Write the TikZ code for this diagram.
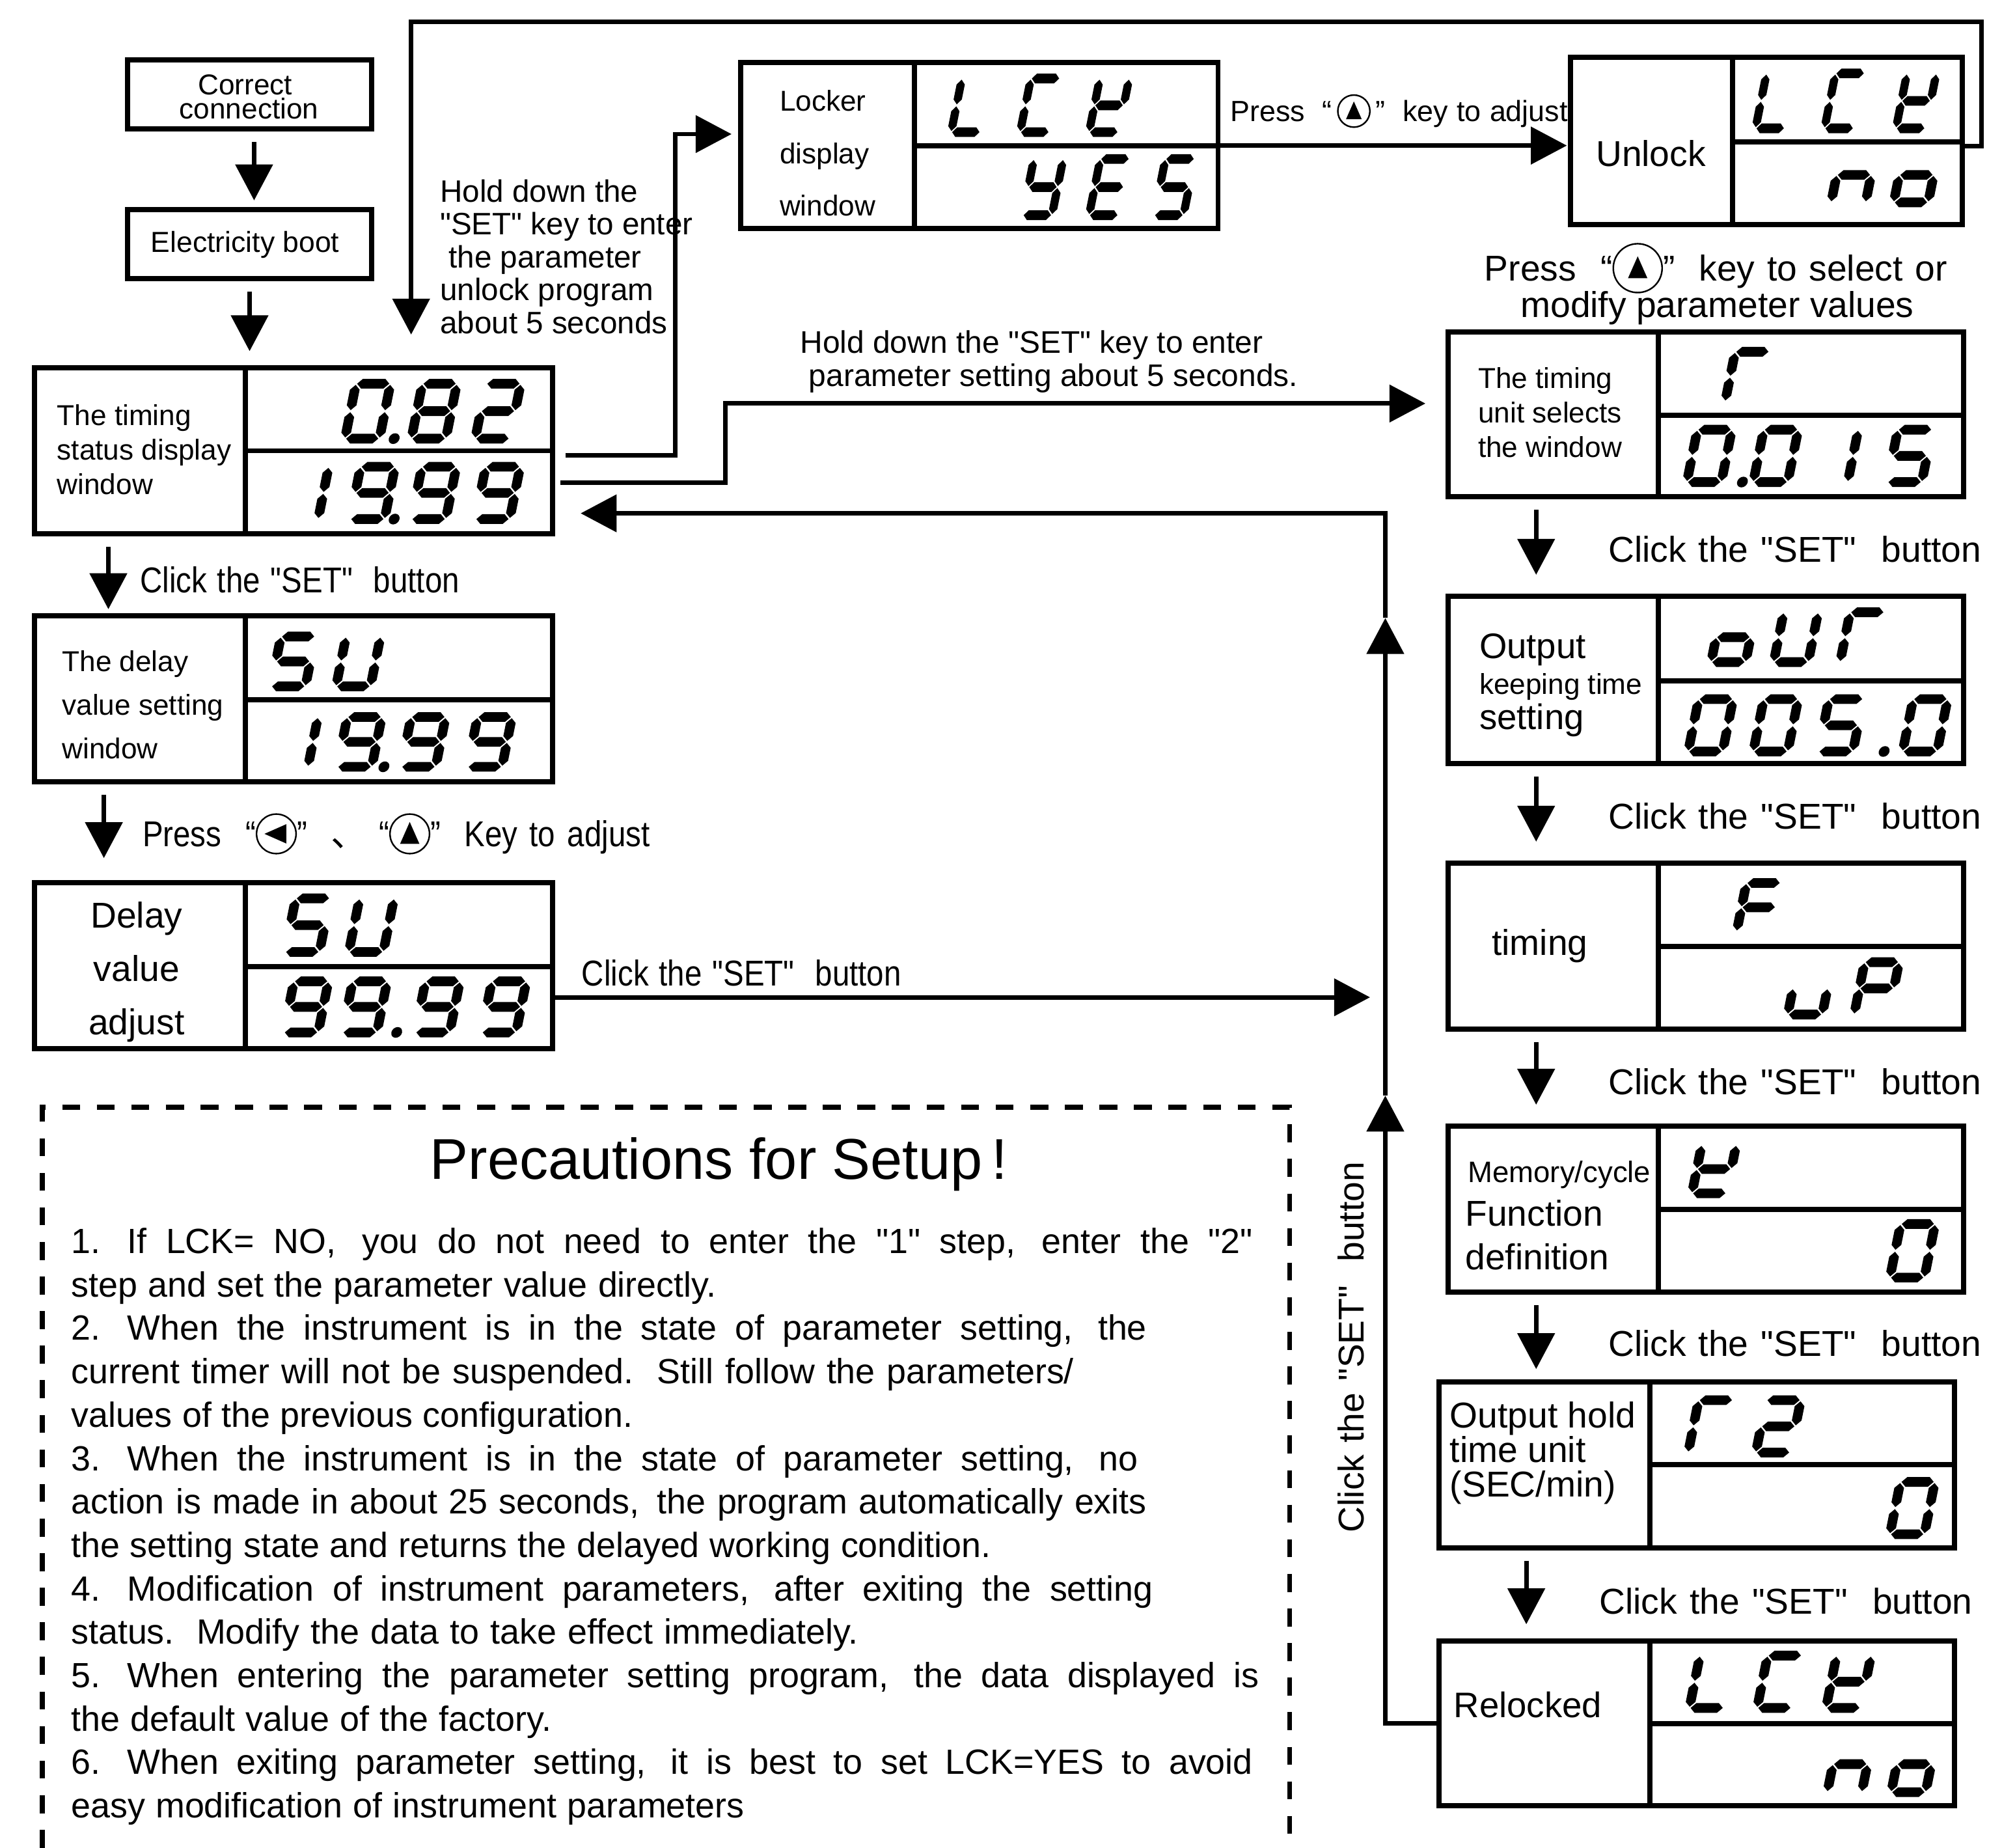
\documentclass[tikz,border=0pt]{standalone}
\usepackage{fontspec}
\setmainfont{Liberation Sans}
\newfontfamily\plainfont{Liberation Sans}
\newfontfamily\narrowfont[FakeStretch=0.86]{Liberation Sans}
\newfontfamily\cjkfont{Noto Sans CJK SC}
\usetikzlibrary{arrows.meta,positioning}

\newcommand{\fs}[2]{\plainfont\fontsize{#1}{#2}\selectfont}
\newcommand{\setclick}[1]{\makebox[#1][s]{Click the "SET"\ \ button}}
\newcommand{\itemno}[1]{\makebox[0.44cm][l]{#1}}
\newcommand{\cgap}{,\kern1.5pt\ }
\newcommand{\keyup}[1][.55]{\tikz[baseline=-0.35em,x=1em,y=1em]{\draw[line width=.35pt] (0,0) circle (#1); \fill (-.27,-.28) -- (.27,-.28) -- (0,.33) -- cycle;}}
\newcommand{\keyleft}{\tikz[baseline=-0.35em,x=1em,y=1em]{\draw[line width=.35pt] (0,0) circle (.55); \fill (.28,-.27) -- (.28,.27) -- (-.33,0) -- cycle;}}

% Segments of one display digit
\newcommand{\hseg}[3]{\fill ({#1},{#3}) -- ({#1+3.8},{#3-3.8}) -- ({#2-3.8},{#3-3.8}) -- ({#2},{#3}) -- ({#2-3.8},{#3+3.8}) -- ({#1+3.8},{#3+3.8}) -- cycle;}
\newcommand{\vseg}[3]{\fill ({#1},{#2}) -- ({#1+3.8},{#2+3.8}) -- ({#1+3.8},{#3-3.8}) -- ({#1},{#3}) -- ({#1-3.8},{#3-3.8}) -- ({#1-3.8},{#2+3.8}) -- cycle;}
\def\lcdsega{\hseg{4.4}{29.6}{-\lcdh+3.5}}
\def\lcdsegb{\vseg{30.5}{-\lcdh+4.4}{-\lcdh/2-0.8}}
\def\lcdsegc{\vseg{30.5}{-\lcdh/2+0.8}{-4.4}}
\def\lcdsegd{\hseg{4.4}{29.6}{-3.5}}
\def\lcdsege{\vseg{3.5}{-\lcdh/2+0.8}{-4.4}}
\def\lcdsegf{\vseg{3.5}{-\lcdh+4.4}{-\lcdh/2-0.8}}
\def\lcdsegg{\hseg{4.4}{29.6}{-\lcdh/2}}
\def\lcdsegp{\fill (22,-3.5) circle (4.2);}
\newcommand{\segdef}[2]{\expandafter\def\csname segs#1\endcsname{#2}}
\segdef{0}{a,b,c,d,e,f}
\segdef{1}{b,c}
\segdef{2}{a,b,d,e,g}
\segdef{5}{a,c,d,f,g}
\segdef{8}{a,b,c,d,e,f,g}
\segdef{9}{a,b,c,d,f,g}
\segdef{L}{d,e,f}
\segdef{C}{a,d,e,f}
\segdef{K}{b,d,e,f,g}
\segdef{Y}{b,c,d,f,g}
\segdef{E}{a,d,e,f,g}
\segdef{S}{a,c,d,f,g}
\segdef{U}{b,c,d,e,f}
\segdef{F}{a,e,f,g}
\segdef{P}{a,b,e,f,g}
\segdef{r}{a,e,f}
\segdef{n}{c,e,g}
\segdef{o}{c,d,e,g}
\segdef{u}{c,d,e}
\segdef{.}{p}

% [width factor], #2 top, #3 bottom, #4 list of char/centre
\newcommand{\lcdword}[4][1]{%
  \pgfmathsetmacro{\lcdh}{#3-#2}
  \foreach \ch/\cx in {#4} {
    \begin{scope}[shift={(\cx-22*#1,#3)}, xslant=0.2, xscale=#1]
      \edef\chsegs{\csname segs\ch\endcsname}
      \foreach \sg in \chsegs {\csname lcdseg\sg\endcsname}
    \end{scope}
  }
}

% #1 name, #2-#4 x left/divider/right, #5-#7 y top/middle/bottom, #8 #9 readings
\newcommand{\lcdbox}[9]{%
  \node[cell, minimum width={(#3-#2)*0.01cm}, minimum height={(#7-#5)*0.01cm}] (#1L) at ({(#2+#3)/2},{(#5+#7)/2}) {};
  \node[cell, reading, minimum width={(#4-#3)*0.01cm}, minimum height={(#6-#5)*0.01cm}] (#1U) at ({(#3+#4)/2},{(#5+#6)/2}) {#8};
  \node[cell, reading, minimum width={(#4-#3)*0.01cm}, minimum height={(#7-#6)*0.01cm}] (#1D) at ({(#3+#4)/2},{(#6+#7)/2}) {#9};
}

\tikzset{
  cell/.style={draw, line width=1.15pt, inner sep=0pt, outer sep=0pt},
  reading/.style={text opacity=0, font=\fs{13}{14}},
  lbl/.style={inner sep=0pt, anchor=west, align=left},
  ctr/.style={inner sep=0pt, align=center},
  flow/.style={line width=1pt, ->},
  dropgap/.style={flow, shorten <=2.9pt, shorten >=#1},
}

\begin{document}
\begin{tikzpicture}[x=0.01cm, y=-0.01cm, >={Triangle[length=8pt,width=8.2pt]}]
  \useasboundingbox (0,0) rectangle (1568,1446.7);

  % Start boxes
  \node[cell, minimum width=1.91cm, minimum height=0.54cm] (corr) at (195.5,74) {};
  \node[ctr, font=\fs{6.4}{5.4}] (corrT) at (195,76) {Correct\kern1.7pt\\connection};
  \node[cell, minimum width=1.91cm, minimum height=0.54cm] (boot) at (195.5,191) {};
  \node[ctr, font=\fs{6.45}{8}] (bootT) at (192,191.5) {Electricity boot};

  % Left column
  \lcdbox{time}{27}{192}{433}{288}{353}{418}{0.82}{19.99}
  \node[lbl, font=\fs{6.4}{7.7}] (timeT) at (44,352) {The timing\\status display\\window};
  \lcdword{297}{347}{0/288,./308,8/340,2/390}
  \lcdword{362}{410}{1/240,9/292,./308,9/340,9/390}

  \lcdbox{delay}{27}{192}{433}{482}{548}{612}{SU}{19.99}
  \node[lbl, font=\fs{6.4}{9.7}] (delayT) at (48,552) {The delay\\value setting\\window};
  \lcdword{495}{541}{S/230,U/281}
  \lcdword{558}{604}{1/232,9/282,./300,9/332,9/384}

  \lcdbox{adjust}{27}{192}{433}{691}{757}{821}{SU}{99.99}
  \node[ctr, font=\fs{8}{11.9}] (adjustT) at (107,761) {Delay\\value\\adjust};
  \lcdword{700}{749}{S/241,U/291}
  \lcdword{765}{812}{9/240,9/286,./310,9/343,9/395}

  % Top row
  \lcdbox{lock}{580}{716}{954}{49}{114}{179}{LCK}{YES}
  \node[lbl, font=\fs{6.4}{11.7}] (lockT) at (610,120) {Locker\\display\\window};
  \lcdword[.85]{58}{107}{L/760,C/814,K/868}
  \lcdword[.85]{121}{172}{Y/816,E/868,S/919}

  \lcdbox{unlock}{1230}{1357}{1537}{45}{111}{176}{LCK}{no}
  \node[ctr, font=\fs{8}{9.6}] (unlockT) at (1293,120) {Unlock};
  \lcdword[.85]{54}{104}{L/1390,C/1444,K/1500}
  \lcdword{112}{162}{n/1452,o/1501}

  % Right column
  \lcdbox{unit}{1134}{1299}{1538}{260}{325}{389}{r}{0.015}
  \node[lbl, font=\fs{6.4}{7.7}] (unitT) at (1157,323) {The timing\\unit selects\\the window};
  \lcdword{272}{318}{r/1369}
  \lcdword{333}{381}{0/1339,./1364,0/1391,1/1438,5/1496}

  \lcdbox{out}{1134}{1299}{1538}{467}{533}{598}{oUr}{005.0}
  \node[lbl, font=\fs{7.9}{9.5}] (outA) at (1158,509) {Output};
  \node[lbl, font=\fs{6.4}{7.7}] (outB) at (1158,538) {keeping time};
  \node[lbl, font=\fs{7.9}{9.5}] (outC) at (1158,564) {setting};
  \lcdword{476}{522}{o/1358,U/1407,r/1459}
  \lcdword{544}{592}{0/1340,0/1391,5/1442,./1475,0/1508}

  \lcdbox{timer}{1134}{1299}{1538}{676}{741}{806}{F}{uP}
  \node[ctr, font=\fs{8}{9.6}] (timerT) at (1206,741) {timing};
  \lcdword{688}{733}{F/1378}
  \lcdword{750}{798}{u/1418,P/1470}

  \lcdbox{mem}{1134}{1299}{1538}{882}{947}{1012}{K}{0}
  \node[lbl, font=\fs{6.6}{8}] (memA) at (1149,920) {Memory/cycle};
  \node[lbl, font=\fs{8}{9.6}] (memB) at (1147,950) {Function};
  \node[lbl, font=\fs{8}{9.6}] (memC) at (1147,984) {definition};
  \lcdword{893}{938}{K/1343}
  \lcdword{955}{1004}{0/1498}

  \lcdbox{hold}{1127}{1292}{1531}{1082}{1147}{1212}{r2}{0}
  \node[lbl, font=\fs{8}{7.7}] (holdT) at (1135,1138) {Output hold\\time unit\\(SEC/min)};
  \lcdword{1093}{1141}{r/1340,2/1393}
  \lcdword{1157}{1205}{0/1498}

  \lcdbox{relock}{1127}{1292}{1531}{1285}{1350}{1414}{LCK}{no}
  \node[lbl, font=\fs{7.9}{9.4}] (relockT) at (1138,1335) {Relocked};
  \lcdword{1293}{1341}{L/1341,C/1394,K/1448}
  \lcdword{1356}{1407}{n/1449,o/1499}

  % Coordinates of the long connectors
  \coordinate (loopA) at (1552,17);
  \coordinate (loopB) at (322,17);
  \coordinate (loopC) at (322,262);
  \coordinate (lockIn) at (529,105);
  \coordinate (unitIn) at (568,316);
  \coordinate (retA) at (1085,858);
  \coordinate (retB) at (1085,484);
  \coordinate (retC) at (1085,402);
  \coordinate (retD) at (1085,781);

  % Short arrows
  \draw[dropgap=2pt] ([xshift=1pt]corr.south) -- ([xshift=1pt]boot.north);
  \draw[dropgap=3.7pt] (boot.south) -- (boot.south |- timeL.north);
  \draw[dropgap=1.4pt] ([xshift=-7pt]timeL.south) -- ([xshift=-7pt]timeL.south |- delayL.north);
  \draw[dropgap=5.4pt] ([xshift=-8pt]delayL.south) -- ([xshift=-8pt]delayL.south |- adjustL.north);
  \draw[dropgap=4.8pt] ([xshift=-3.8pt]unitL.south) -- ([xshift=-3.8pt]unitL.south |- outL.north);
  \draw[dropgap=4.8pt] ([xshift=-3.8pt]outL.south) -- ([xshift=-3.8pt]outL.south |- timerL.north);
  \draw[dropgap=4.8pt] ([xshift=-3.8pt]timerL.south) -- ([xshift=-3.8pt]timerL.south |- memL.north);
  \draw[dropgap=2.8pt] ([xshift=-3.8pt]memL.south) -- ([xshift=-3.8pt]memL.south |- holdL.north);
  \draw[dropgap=3.7pt] ([xshift=-4pt]holdL.south) -- ([xshift=-4pt]holdL.south |- relockL.north);

  % Long arrows
  \draw[flow, shorten >=0.8pt] (lockU.south east) -- (lockU.south east -| unlockL.west);
  \draw[flow] ([yshift=-1pt]unlockU.south east) -| (loopA) -- (loopB) -- (loopC);
  \draw[flow, shorten <=2.8pt, shorten >=2pt] ([yshift=-1pt]timeU.south east) -| (lockIn) -- (lockIn -| lockL.west);
  \draw[flow, shorten <=1.7pt, shorten >=5pt] ([yshift=2.1pt]timeD.east) -| (unitIn) -- (unitIn -| unitL.west);
  \draw[flow] (relockL.west) -| (retA);
  \draw[flow] (retA) -- (retB);
  \draw[flow, shorten >=6.2pt] (retB) -- (retC) -- (retC -| timeD.east);
  \draw[flow, shorten >=3.4pt] (adjustD.east |- retD) -- (retD);

  % Texts beside the arrows
  \node[lbl, font=\fs{6.9}{7.3}] (holdA) at (344,201) {Hold down the\\"SET" key to enter\\\ the parameter\\unlock program\\about 5 seconds};
  \node[lbl, font=\fs{6.95}{7.4}] (holdB) at (626,283) {Hold down the "SET" key to enter\\\ parameter setting about 5 seconds.};
  \node[lbl, font=\fs{6.5}{7.8}] (pressA) at (963,87) {\makebox[2.64cm][s]{Press \ “\,\keyup\,” \ key to adjust}};
  \node[lbl, font=\fs{8}{8.6}] (pressB) at (1162,210) {\makebox[3.62cm][s]{Press \ “\keyup[.68]” \ key to select or}};
  \node[ctr, font=\fs{8}{8.6}] (pressD) at (1345,241) {modify parameter values};
  \node[lbl, font=\fs{8}{9.6}\narrowfont] (clickA) at (109,454) {\setclick{2.5cm}};
  \node[lbl, font=\fs{8}{9.6}\narrowfont] (pressC) at (111,653) {\makebox[3.97cm][s]{Press \ “\keyleft” \ {\cjkfont 、}\ “\keyup” \ Key to adjust}};
  \node[lbl, font=\fs{8}{9.6}\narrowfont] (clickB) at (455,762) {\setclick{2.5cm}};
  \node[lbl, font=\fs{8}{9.6}] (clickC) at (1259,430) {\setclick{2.92cm}};
  \node[lbl, font=\fs{8}{9.6}] (clickD) at (1259,639) {\setclick{2.92cm}};
  \node[lbl, font=\fs{8}{9.6}] (clickE) at (1259,847) {\setclick{2.92cm}};
  \node[lbl, font=\fs{8}{9.6}] (clickF) at (1259,1052) {\setclick{2.92cm}};
  \node[lbl, font=\fs{8}{9.6}] (clickG) at (1252,1254) {\setclick{2.92cm}};
  \node[ctr, rotate=90, font=\fs{8}{9.6}] (clickH) at (1058,1055) {\setclick{2.9cm}};

  % Precautions
  \draw[line width=1.1pt, dash pattern=on 4pt off 3.7pt] (33,1447) -- (33,867) -- (1010,867) -- (1010,1447);
  \node[ctr, font=\fs{12.8}{15}] (noteT) at (563,912) {Precautions for Setup\kern2pt!};
  \tikzset{noteline/.style={lbl, font=\fs{7.8}{9}, yshift=-0.7pt}}
  \node[noteline] (n1) at (55,972) {\makebox[9.25cm][s]{\itemno{1.}If LCK= NO\cgap you do not need to enter the "1" step\cgap enter the "2"}};
  \node[noteline] (n2) at (55,1006) {\makebox[5.05cm][s]{step and set the parameter value directly.}};
  \node[noteline] (n3) at (55,1040) {\makebox[8.42cm][s]{\itemno{2.}When the instrument is in the state of parameter setting\cgap the}};
  \node[noteline] (n4) at (55,1074) {\makebox[7.85cm][s]{current timer will not be suspended.\ \ Still follow the parameters/}};
  \node[noteline] (n5) at (55,1108) {\makebox[4.4cm][s]{values of the previous configuration.}};
  \node[noteline] (n6) at (55,1142) {\makebox[8.35cm][s]{\itemno{3.}When the instrument is in the state of parameter setting\cgap no}};
  \node[noteline] (n7) at (55,1176) {\makebox[8.42cm][s]{action is made in about 25 seconds\cgap the program automatically exits}};
  \node[noteline] (n8) at (55,1210) {\makebox[7.2cm][s]{the setting state and returns the delayed working condition.}};
  \node[noteline] (n9) at (55,1244) {\makebox[8.47cm][s]{\itemno{4.}Modification of instrument parameters\cgap after exiting the setting}};
  \node[noteline] (n10) at (55,1278) {\makebox[6.16cm][s]{status.\ \ Modify the data to take effect immediately.}};
  \node[noteline] (n11) at (55,1312) {\makebox[9.3cm][s]{\itemno{5.}When entering the parameter setting program\cgap the data displayed is}};
  \node[noteline] (n12) at (55,1346) {\makebox[3.76cm][s]{the default value of the factory.}};
  \node[noteline] (n13) at (55,1380) {\makebox[9.25cm][s]{\itemno{6.}When exiting parameter setting\cgap it is best to set LCK=YES to avoid}};
  \node[noteline] (n14) at (55,1414) {\makebox[5.27cm][s]{easy modification of instrument parameters}};
\end{tikzpicture}
\end{document}
